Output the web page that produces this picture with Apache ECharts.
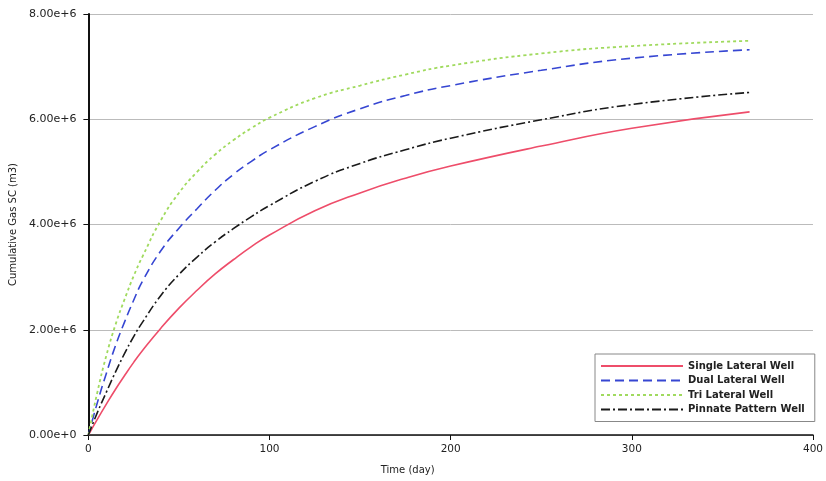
<!DOCTYPE html>
<html>
<head>
<meta charset="utf-8">
<script src="https://cdn.jsdelivr.net/npm/echarts@6/dist/echarts.min.js"></script>
<style>html,body{margin:0;padding:0;background:#fff}#c{width:826px;height:481px}</style>
</head>
<body>
<div id="c"></div>
<script>
const days = [0, 5, 10, 15, 20, 25, 30, 40, 50, 60, 70, 80, 90, 100, 125, 150, 175, 200, 250, 300, 365];
const singleLateral = [0, 0.30e6, 0.59e6, 0.87e6, 1.13e6, 1.38e6, 1.61e6, 2.03e6, 2.41e6, 2.75e6, 3.06e6, 3.33e6, 3.58e6, 3.80e6, 4.26e6, 4.60e6, 4.88e6, 5.11e6, 5.49e6, 5.83e6, 6.14e6];
const dualLateral = [0, 0.62e6, 1.18e6, 1.70e6, 2.15e6, 2.56e6, 2.93e6, 3.50e6, 3.93e6, 4.30e6, 4.65e6, 4.95e6, 5.20e6, 5.42e6, 5.86e6, 6.20e6, 6.45e6, 6.64e6, 6.93e6, 7.16e6, 7.32e6];
const triLateral = [0, 0.82e6, 1.52e6, 2.10e6, 2.58e6, 3.02e6, 3.40e6, 4.08e6, 4.60e6, 5.00e6, 5.33e6, 5.60e6, 5.83e6, 6.03e6, 6.40e6, 6.64e6, 6.85e6, 7.02e6, 7.25e6, 7.39e6, 7.49e6];
const pinnatePattern = [0, 0.43e6, 0.82e6, 1.20e6, 1.55e6, 1.87e6, 2.15e6, 2.65e6, 3.05e6, 3.38e6, 3.67e6, 3.92e6, 4.15e6, 4.36e6, 4.82e6, 5.16e6, 5.42e6, 5.64e6, 5.99e6, 6.28e6, 6.51e6];
const seriesNames = ['Single Lateral Well', 'Dual Lateral Well', 'Tri Lateral Well', 'Pinnate Pattern Well'];
const xTicks = [0, 100, 200, 300, 400];
const yTicks = [0, 2e6, 4e6, 6e6, 8e6];

const pair = arr => days.map((d, i) => [d, arr[i]]);
const font = 'DejaVu Sans';
const chart = echarts.init(document.getElementById('c'), null, {renderer: 'canvas'});
const mk = (name, data, color, type, width) => ({
  name, type: 'line', data: pair(data), showSymbol: false, symbol: 'none',
  smooth: 0.5,
  lineStyle: {color, width, type}, itemStyle: {color}
});
chart.setOption({
  animation: false,
  grid: {left: 87, right: 6, top: 14, bottom: 46},
  legend: {
    orient: 'vertical', left: 595, top: 354,
    padding: [6, 10, 6, 5],
    borderColor: '#888', borderWidth: 1, backgroundColor: '#fff',
    itemWidth: 82, itemHeight: 10, itemGap: 2.5,
    itemStyle: {opacity: 0},
    textStyle: {fontFamily: font, fontSize: 10, fontWeight: 'bold', color: '#222', lineHeight: 12},
    data: seriesNames
  },
  xAxis: {
    type: 'value', min: xTicks[0], max: xTicks[xTicks.length - 1], interval: 100,
    name: 'Time (day)', nameLocation: 'middle', nameGap: 30,
    nameTextStyle: {fontFamily: font, fontSize: 10, color: '#222', padding: [0, 86, 0, 0]},
    axisLine: {show: true, lineStyle: {color: '#111', width: 1.5}},
    axisTick: {show: true, length: 5, lineStyle: {color: '#111'}},
    axisLabel: {fontFamily: font, fontSize: 10.5, color: '#222', margin: 9},
    splitLine: {show: false}
  },
  yAxis: {
    type: 'value', min: yTicks[0], max: yTicks[yTicks.length - 1], interval: 2e6,
    name: 'Cumulative Gas SC (m3)', nameLocation: 'middle', nameGap: 67,
    nameTextStyle: {fontFamily: font, fontSize: 10, color: '#222'},
    axisLine: {show: true, lineStyle: {color: '#111', width: 2}},
    axisTick: {show: true, length: 5, lineStyle: {color: '#111'}},
    axisLabel: {fontFamily: font, fontSize: 11, color: '#222', margin: 12,
      formatter: v => v.toExponential(2)},
    splitLine: {show: true, lineStyle: {color: '#bbb', width: 1}}
  },
  series: [
    mk(seriesNames[0], singleLateral, '#ee4d6a', 'solid', 1.6),
    mk(seriesNames[1], dualLateral, '#3646d2', [9, 5], 1.6),
    mk(seriesNames[2], triLateral, '#a0da5e', [3, 3], 1.8),
    mk(seriesNames[3], pinnatePattern, '#1a1a1a', [9, 3, 2, 3], 1.6)
  ]
});
</script>
</body>
</html>
